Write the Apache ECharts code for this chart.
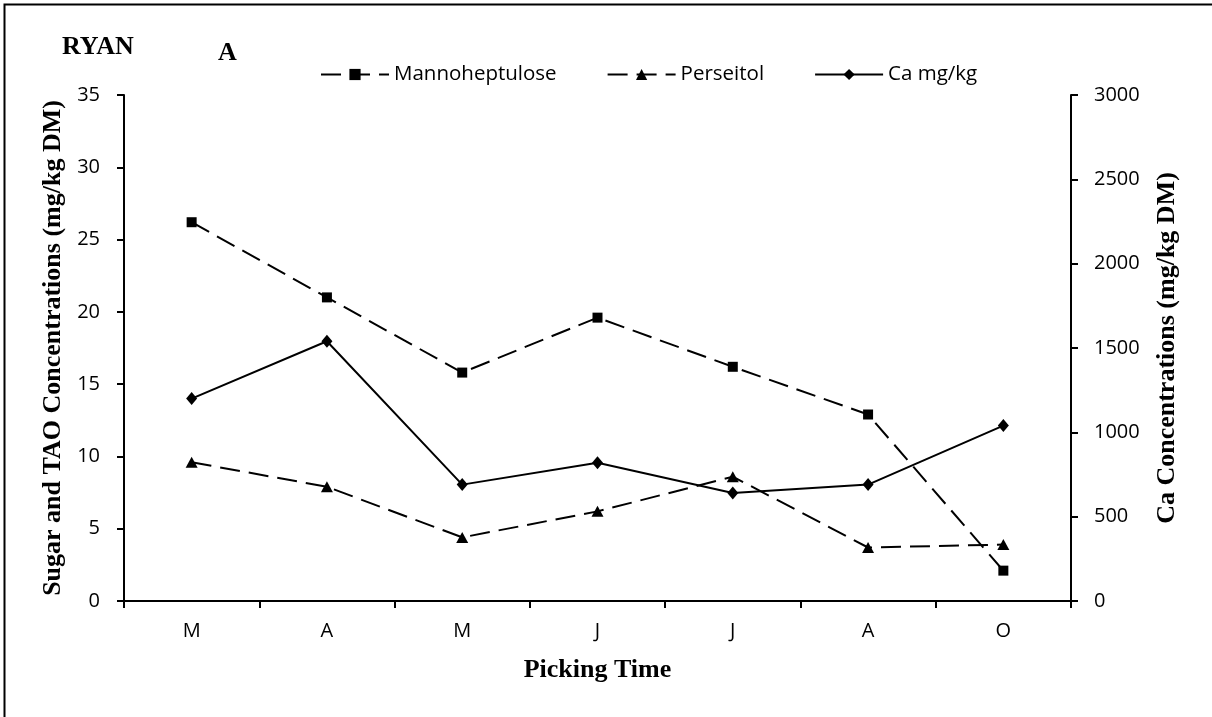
<!DOCTYPE html>
<html>
<head>
<meta charset="utf-8">
<script src="https://cdn.jsdelivr.net/npm/echarts@6/dist/echarts.min.js"></script>
<style>
html,body{margin:0;padding:0;background:#fff;}
#chart{width:1212px;height:717px;}
</style>
</head>
<body>
<div id="chart"></div>
<script>
var categories = ['M', 'A', 'M', 'J', 'J', 'A', 'O'];
var mannoheptulose = [26.2, 21.0, 15.8, 19.6, 16.2, 12.9, 2.1];
var perseitol = [9.6, 7.9, 4.4, 6.2, 8.6, 3.7, 3.9];
var calcium = [1200, 1540, 690, 820, 640, 690, 1040];
var seriesNames = ['Mannoheptulose', 'Perseitol', 'Ca mg/kg'];
var leftAxisTitle = 'Sugar and TAO Concentrations (mg/kg DM)';
var rightAxisTitle = 'Ca Concentrations (mg/kg DM)';
var xAxisTitle = 'Picking Time';

var chart = echarts.init(document.getElementById('chart'), null, {renderer: 'canvas'});
var titleFont = {fontFamily: '"Liberation Serif", "Times New Roman", serif', fontWeight: 'bold', fontSize: 26, color: '#000'};
var tickFont = {fontFamily: '"Open Sans", sans-serif', fontSize: 20, color: '#000'};
var axisLine = {show: true, lineStyle: {color: '#000', width: 2}};
var axisTick = {show: true, length: 7, lineStyle: {color: '#000', width: 2}};
function plain(v) { return String(v); }

var option = {
  backgroundColor: '#fff',
  animation: false,
  grid: {left: 124, right: 141, top: 95, height: 506, containLabel: false, outerBoundsMode: 'none'},
  legend: {
    data: seriesNames,
    left: 315, top: 59,
    itemWidth: 68, itemHeight: 14, itemGap: 50,
    textStyle: {fontFamily: '"Open Sans", sans-serif', fontSize: 20.5, color: '#000'}
  },
  xAxis: {
    type: 'category',
    data: categories,
    boundaryGap: true,
    axisLine: axisLine,
    axisTick: axisTick,
    axisLabel: Object.assign({margin: 20}, tickFont),
    splitLine: {show: false},
    name: xAxisTitle,
    nameLocation: 'middle',
    nameGap: 56,
    nameTextStyle: titleFont
  },
  yAxis: [{
    type: 'value',
    min: 0, max: 35, interval: 5,
    position: 'left',
    axisLine: axisLine,
    axisTick: axisTick,
    axisLabel: Object.assign({margin: 24, formatter: plain}, tickFont),
    splitLine: {show: false},
    name: leftAxisTitle,
    nameLocation: 'middle',
    nameGap: 51,
    nameTextStyle: titleFont
  }, {
    type: 'value',
    min: 0, max: 3000, interval: 500,
    position: 'right',
    axisLine: axisLine,
    axisTick: axisTick,
    axisLabel: Object.assign({margin: 23, formatter: plain}, tickFont),
    splitLine: {show: false},
    name: rightAxisTitle,
    nameLocation: 'middle',
    nameGap: 83,
    nameTextStyle: titleFont
  }],
  series: [{
    name: seriesNames[0],
    type: 'line',
    data: mannoheptulose,
    yAxisIndex: 0,
    symbol: 'rect',
    symbolSize: 10,
    lineStyle: {color: '#000', width: 2, type: [20, 9]},
    itemStyle: {color: '#000'}
  }, {
    name: seriesNames[1],
    type: 'line',
    data: perseitol,
    yAxisIndex: 0,
    symbol: 'triangle',
    symbolSize: [12, 11],
    lineStyle: {color: '#000', width: 2, type: [20, 9]},
    itemStyle: {color: '#000'}
  }, {
    name: seriesNames[2],
    type: 'line',
    data: calcium,
    yAxisIndex: 1,
    symbol: 'diamond',
    symbolSize: [11, 13],
    lineStyle: {color: '#000', width: 2, type: 'solid'},
    itemStyle: {color: '#000'}
  }],
  graphic: [{
    type: 'rect',
    shape: {x: 4.5, y: 4.5, width: 1300, height: 800},
    style: {fill: null, stroke: '#000', lineWidth: 2},
    silent: true
  }, {
    type: 'text',
    style: {x: 62, y: 47.5, text: 'RYAN', font: 'bold 26px "Liberation Serif", serif', fill: '#000', textVerticalAlign: 'middle', verticalAlign: 'middle'}
  }, {
    type: 'text',
    style: {x: 218, y: 53.5, text: 'A', font: 'bold 26px "Liberation Serif", serif', fill: '#000', textVerticalAlign: 'middle', verticalAlign: 'middle'}
  }]
};
chart.setOption(option);
</script>
</body>
</html>
